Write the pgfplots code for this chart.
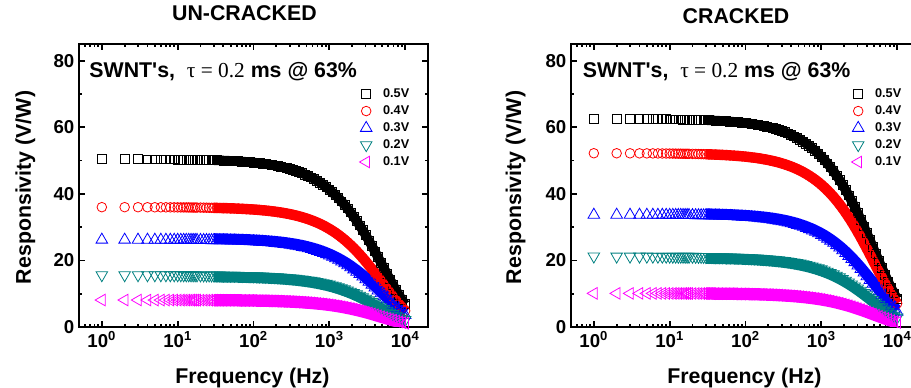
\documentclass[border=0pt]{standalone}
\usepackage{fontspec}
\setmainfont{Liberation Sans}
\newfontfamily\timesf{Liberation Serif}
\usepackage{pgfplots}
\usepackage{pgfplotstable}
\pgfplotsset{compat=1.18}
\definecolor{cred}{RGB}{255,0,0}
\definecolor{cblue}{RGB}{0,0,255}
\definecolor{cteal}{RGB}{0,128,128}
\definecolor{cmag}{RGB}{255,0,255}

% UN-CRACKED: f, 0.5V, 0.4V, 0.3V, 0.2V, 0.1V
\pgfplotstableread{
f b r u t m
1 50.39 35.99 26.19 15.60 8.10
2 50.38 35.99 26.19 15.59 8.10
3 50.37 35.98 26.18 15.59 8.10
4 50.36 35.97 26.18 15.59 8.09
5 50.35 35.96 26.17 15.58 8.09
6 50.34 35.96 26.17 15.58 8.09
7 50.33 35.95 26.16 15.58 8.09
8 50.32 35.94 26.16 15.58 8.09
9 50.31 35.94 26.15 15.57 8.09
10 50.30 35.93 26.15 15.57 8.08
11 50.29 35.92 26.14 15.57 8.08
12 50.28 35.91 26.14 15.56 8.08
13 50.27 35.91 26.13 15.56 8.08
14 50.26 35.90 26.13 15.56 8.08
15 50.25 35.89 26.12 15.55 8.08
16 50.24 35.88 26.12 15.55 8.07
17 50.23 35.88 26.11 15.55 8.07
18 50.22 35.87 26.11 15.54 8.07
20 50.20 35.86 26.10 15.54 8.07
22 50.18 35.84 26.08 15.53 8.06
24 50.16 35.83 26.07 15.53 8.06
26 50.14 35.81 26.06 15.52 8.06
28 50.12 35.80 26.05 15.51 8.05
30 50.10 35.78 26.04 15.51 8.05
33 50.07 35.76 26.03 15.50 8.05
36 50.04 35.74 26.01 15.49 8.04
40 50.00 35.71 25.99 15.48 8.04
45 49.95 35.68 25.96 15.46 8.03
50 49.90 35.64 25.94 15.44 8.02
56 49.84 35.60 25.91 15.43 8.01
63 49.77 35.55 25.87 15.41 8.00
71 49.69 35.49 25.83 15.38 7.99
80 49.60 35.42 25.78 15.35 7.97
90 49.50 35.35 25.73 15.32 7.96
100 49.40 35.29 25.68 15.29 7.94
110 49.30 35.22 25.63 15.26 7.92
120 49.20 35.15 25.58 15.23 7.91
132 49.09 35.06 25.52 15.19 7.89
145 48.96 34.97 25.45 15.15 7.87
158 48.83 34.88 25.38 15.11 7.85
174 48.68 34.77 25.30 15.07 7.82
191 48.51 34.65 25.22 15.02 7.80
209 48.34 34.53 25.13 14.96 7.77
229 48.14 34.39 25.03 14.90 7.74
251 47.93 34.24 24.92 14.84 7.70
275 47.70 34.07 24.80 14.77 7.67
302 47.45 33.89 24.66 14.69 7.63
331 47.17 33.69 24.52 14.60 7.58
363 46.87 33.48 24.37 14.51 7.53
398 46.54 33.25 24.20 14.41 7.48
437 46.18 32.99 24.01 14.29 7.42
479 45.80 32.71 23.81 14.17 7.36
525 45.38 32.41 23.59 14.04 7.29
575 44.93 32.09 23.35 13.91 7.22
631 44.42 31.73 23.09 13.75 7.14
692 43.89 31.35 22.81 13.58 7.05
759 43.30 30.93 22.51 13.40 6.96
832 42.67 30.48 22.18 13.21 6.86
912 42.00 30.00 21.83 13.00 6.75
1000 41.26 29.47 21.45 12.77 6.63
1096 40.48 28.91 21.04 12.53 6.51
1202 39.63 28.31 20.60 12.27 6.37
1318 38.72 27.66 20.13 11.99 6.22
1445 37.75 26.96 19.62 11.68 6.07
1585 36.71 26.22 19.08 11.36 5.90
1738 35.60 25.43 18.51 11.02 5.72
1905 34.43 24.59 17.90 10.66 5.53
2089 33.19 23.71 17.25 10.27 5.33
2291 31.87 22.77 16.57 9.87 5.12
2512 30.50 21.78 15.85 9.44 4.90
2754 29.06 20.75 15.10 8.99 4.67
3020 27.55 19.68 14.32 8.53 4.43
3311 25.99 18.57 13.51 8.05 4.18
3631 24.38 17.42 12.67 7.55 3.92
3981 22.73 16.24 11.82 7.04 3.65
4365 21.05 15.04 10.94 6.52 3.38
4786 19.35 13.82 10.06 5.99 3.11
5248 17.64 12.60 9.17 5.46 2.84
5754 15.95 11.39 8.29 4.94 2.56
6310 14.27 10.19 7.42 4.42 2.29
6918 12.63 9.02 6.57 3.91 2.03
7586 11.05 7.90 5.75 3.42 1.78
8318 9.55 6.82 4.96 2.96 1.53
9120 8.13 5.81 4.23 2.52 1.31
10000 6.82 4.87 3.55 2.11 1.10
}\uncracked

% CRACKED: f, 0.5V, 0.4V, 0.3V, 0.2V, 0.1V
\pgfplotstableread{
f b r u t m
1 62.49 52.19 33.69 21.20 10.10
2 62.48 52.18 33.69 21.19 10.10
3 62.46 52.17 33.68 21.19 10.09
4 62.45 52.16 33.67 21.18 10.09
5 62.44 52.15 33.67 21.18 10.09
6 62.43 52.14 33.66 21.17 10.09
7 62.41 52.13 33.65 21.17 10.09
8 62.40 52.12 33.65 21.17 10.08
9 62.39 52.11 33.64 21.16 10.08
10 62.38 52.10 33.63 21.16 10.08
11 62.36 52.09 33.63 21.15 10.08
12 62.35 52.07 33.62 21.15 10.08
13 62.34 52.06 33.61 21.14 10.07
14 62.33 52.05 33.61 21.14 10.07
15 62.31 52.04 33.60 21.14 10.07
16 62.30 52.03 33.59 21.13 10.07
17 62.29 52.02 33.59 21.13 10.07
18 62.28 52.01 33.58 21.12 10.06
20 62.25 51.99 33.57 21.12 10.06
22 62.23 51.97 33.55 21.11 10.06
24 62.20 51.95 33.54 21.10 10.05
26 62.18 51.93 33.52 21.09 10.05
28 62.15 51.91 33.51 21.08 10.04
30 62.13 51.89 33.50 21.07 10.04
33 62.09 51.86 33.48 21.06 10.03
36 62.05 51.82 33.46 21.05 10.03
40 62.00 51.78 33.43 21.03 10.02
45 61.94 51.73 33.40 21.01 10.01
50 61.88 51.68 33.36 20.99 10.00
56 61.80 51.62 33.32 20.96 9.99
63 61.71 51.54 33.28 20.93 9.97
71 61.61 51.46 33.22 20.90 9.96
80 61.51 51.37 33.16 20.86 9.94
90 61.38 51.27 33.10 20.82 9.92
100 61.26 51.17 33.03 20.78 9.90
110 61.14 51.06 32.97 20.74 9.88
120 61.02 50.96 32.90 20.70 9.86
132 60.87 50.84 32.82 20.65 9.84
145 60.71 50.71 32.74 20.59 9.81
158 60.56 50.58 32.65 20.54 9.79
174 60.36 50.41 32.55 20.47 9.75
191 60.16 50.24 32.44 20.41 9.72
209 59.94 50.06 32.32 20.33 9.69
229 59.70 49.86 32.19 20.25 9.65
251 59.44 49.64 32.05 20.16 9.61
275 59.16 49.41 31.90 20.07 9.56
302 58.84 49.14 31.72 19.96 9.51
331 58.50 48.86 31.54 19.84 9.45
363 58.12 48.54 31.34 19.72 9.39
398 57.72 48.21 31.12 19.58 9.33
437 57.27 47.83 30.88 19.43 9.25
479 56.79 47.43 30.62 19.26 9.18
525 56.27 47.00 30.34 19.09 9.09
575 55.71 46.53 30.04 18.90 9.00
631 55.09 46.01 29.70 18.69 8.90
692 54.42 45.45 29.34 18.46 8.79
759 53.70 44.85 28.95 18.21 8.68
832 52.92 44.20 28.53 17.95 8.55
912 52.08 43.50 28.08 17.67 8.42
1000 51.17 42.74 27.59 17.36 8.27
1096 50.20 41.92 27.07 17.03 8.11
1202 49.14 41.05 26.50 16.67 7.94
1318 48.02 40.10 25.89 16.29 7.76
1445 46.81 39.10 25.24 15.88 7.57
1585 45.52 38.02 24.54 15.44 7.36
1738 44.15 36.87 23.81 14.98 7.13
1905 42.70 35.66 23.02 14.48 6.90
2089 41.16 34.37 22.19 13.96 6.65
2291 39.53 33.01 21.31 13.41 6.39
2512 37.82 31.59 20.39 12.83 6.11
2754 36.03 30.09 19.43 12.22 5.82
3020 34.16 28.53 18.42 11.59 5.52
3311 32.23 26.92 17.38 10.93 5.21
3631 30.23 25.25 16.30 10.26 4.89
3981 28.19 23.54 15.20 9.56 4.56
4365 26.11 21.80 14.08 8.86 4.22
4786 24.00 20.04 12.94 8.14 3.88
5248 21.88 18.27 11.80 7.42 3.54
5754 19.77 16.51 10.66 6.71 3.20
6310 17.69 14.78 9.54 6.00 2.86
6918 15.67 13.09 8.45 5.31 2.53
7586 13.71 11.45 7.39 4.65 2.22
8318 11.84 9.89 6.38 4.02 1.91
9120 10.09 8.42 5.44 3.42 1.63
10000 8.46 7.06 4.56 2.87 1.37
}\cracked

\pgfplotsset{
  s1/.style={only marks, mark=square, mark size=3.3pt, black, mark options={line width=0.6pt}},
  s2/.style={only marks, mark=o, mark size=3.6pt, cred, mark options={line width=0.6pt}},
  s3/.style={only marks, mark=triangle, mark size=5pt, cblue, mark options={line width=0.6pt}},
  s4/.style={only marks, mark=triangle, mark size=5pt, cteal, mark options={line width=0.6pt, rotate=180}},
  s5/.style={only marks, mark=triangle, mark size=5pt, cmag, mark options={line width=0.6pt, rotate=90}},
  r1/.style={forget plot, no markers, black, line width=7.2pt, line join=round, skip coords between index={0}{23}},
  r2/.style={forget plot, no markers, cred, line width=7.8pt, line join=round, skip coords between index={0}{23}},
  r3/.style={forget plot, no markers, cblue, line width=8.1pt, line join=round, yshift=1.25pt, skip coords between index={0}{23}},
  r4/.style={forget plot, no markers, cteal, line width=8.1pt, line join=round, yshift=-1.25pt, skip coords between index={0}{23}},
  r5/.style={forget plot, no markers, cmag, line width=9.2pt, line join=round, skip coords between index={0}{23}},
}

\newcommand{\annot}{SWNT\textquotesingle s,\ \ {\timesf\mdseries τ = 0.2} ms @ 63\%}

\begin{document}
\begin{tikzpicture}
\useasboundingbox (0,0) rectangle (683.25pt,291pt);
\begin{axis}[at={(59.25pt,45.75pt)}, anchor=south west,
    xmode=log, log basis x=10,
    scale only axis, width=261.75pt, height=212.25pt,
    xmin=0.5, xmax=20000, ymin=0, ymax=85,
    axis line style={line width=2pt},
    tick style={line width=1.3pt, black},
    major tick length=4.5pt, minor tick length=2.6pt,
    tick align=inside,
    xtick={1,10,100,1000,10000},
    xticklabels={{10\textsuperscript{0}},{10\textsuperscript{1}},{10\textsuperscript{2}},{10\textsuperscript{3}},{10\textsuperscript{4}}},
    minor xtick={0.6,0.7,0.8,0.9,2,3,4,5,6,7,8,9,20,30,40,50,60,70,80,90,200,300,400,500,600,700,800,900,2000,3000,4000,5000,6000,7000,8000,9000},
    ytick={0,20,40,60,80}, minor ytick={10,30,50,70},
    /pgf/number format/assume math mode=true,
    ticklabel style={font=\bfseries\fontsize{14}{16}\selectfont},
    xlabel={Frequency (Hz)},
    ylabel={Responsivity (V/W)},
    xlabel style={at={(axis description cs:0.497,-0.198)}, anchor=base, font=\bfseries\fontsize{16}{19}\selectfont},
    ylabel style={at={(axis description cs:-0.138,0.493)}, anchor=base, font=\bfseries\fontsize{16}{19}\selectfont},
    title={UN-CRACKED},
    title style={at={(axis description cs:0.474,1.055)}, anchor=base, font=\bfseries\fontsize{16}{19}\selectfont},
    legend image code/.code={\draw[#1] plot coordinates {(0pt,0pt)}; \path (-6pt,0pt) (10.5pt,0pt);},
    legend style={at={(axis description cs:0.966,0.862)}, anchor=north east, draw=none, fill=none,
      font=\bfseries\fontsize{9.5}{11}\selectfont, row sep=0.6pt},
    legend cell align=left]
\addplot[r1] table[x=f,y=b]{\uncracked};
\addplot[s1] table[x=f,y=b]{\uncracked};
\addplot[r2] table[x=f,y=r]{\uncracked};
\addplot[s2] table[x=f,y=r]{\uncracked};
\addplot[r3] table[x=f,y=u]{\uncracked};
\addplot[s3] table[x=f,y=u]{\uncracked};
\addplot[r4] table[x=f,y=t]{\uncracked};
\addplot[s4] table[x=f,y=t]{\uncracked};
\addplot[r5] table[x=f,y=m]{\uncracked};
\addplot[s5] table[x=f,y=m]{\uncracked};
\legend{0.5V,0.4V,0.3V,0.2V,0.1V}
\node[anchor=base west, font=\bfseries\fontsize{16}{19}\selectfont, inner sep=0pt] at (axis description cs:0.029,0.883) {\annot};
\end{axis}
\begin{axis}[at={(428.25pt,45.75pt)}, anchor=south west,
    xmode=log, log basis x=10,
    scale only axis, width=261.75pt, height=212.25pt,
    xmin=0.5, xmax=20000, ymin=0, ymax=85,
    axis line style={line width=2pt},
    tick style={line width=1.3pt, black},
    major tick length=4.5pt, minor tick length=2.6pt,
    tick align=inside,
    xtick={1,10,100,1000,10000},
    xticklabels={{10\textsuperscript{0}},{10\textsuperscript{1}},{10\textsuperscript{2}},{10\textsuperscript{3}},{10\textsuperscript{4}}},
    minor xtick={0.6,0.7,0.8,0.9,2,3,4,5,6,7,8,9,20,30,40,50,60,70,80,90,200,300,400,500,600,700,800,900,2000,3000,4000,5000,6000,7000,8000,9000},
    ytick={0,20,40,60,80}, minor ytick={10,30,50,70},
    /pgf/number format/assume math mode=true,
    ticklabel style={font=\bfseries\fontsize{14}{16}\selectfont},
    xlabel={Frequency (Hz)},
    ylabel={Responsivity (V/W)},
    xlabel style={at={(axis description cs:0.497,-0.198)}, anchor=base, font=\bfseries\fontsize{16}{19}\selectfont},
    ylabel style={at={(axis description cs:-0.143,0.493)}, anchor=base, font=\bfseries\fontsize{16}{19}\selectfont},
    title={CRACKED},
    title style={at={(axis description cs:0.473,1.043)}, anchor=base, font=\bfseries\fontsize{16}{19}\selectfont},
    legend image code/.code={\draw[#1] plot coordinates {(0pt,0pt)}; \path (-6pt,0pt) (10.5pt,0pt);},
    legend style={at={(axis description cs:0.966,0.862)}, anchor=north east, draw=none, fill=none,
      font=\bfseries\fontsize{9.5}{11}\selectfont, row sep=0.6pt},
    legend cell align=left]
\addplot[r1] table[x=f,y=b]{\cracked};
\addplot[s1] table[x=f,y=b]{\cracked};
\addplot[r2] table[x=f,y=r]{\cracked};
\addplot[s2] table[x=f,y=r]{\cracked};
\addplot[r3] table[x=f,y=u]{\cracked};
\addplot[s3] table[x=f,y=u]{\cracked};
\addplot[r4] table[x=f,y=t]{\cracked};
\addplot[s4] table[x=f,y=t]{\cracked};
\addplot[r5] table[x=f,y=m]{\cracked};
\addplot[s5] table[x=f,y=m]{\cracked};
\legend{0.5V,0.4V,0.3V,0.2V,0.1V}
\node[anchor=base west, font=\bfseries\fontsize{16}{19}\selectfont, inner sep=0pt] at (axis description cs:0.033,0.883) {\annot};
\end{axis}
\end{tikzpicture}
\end{document}
